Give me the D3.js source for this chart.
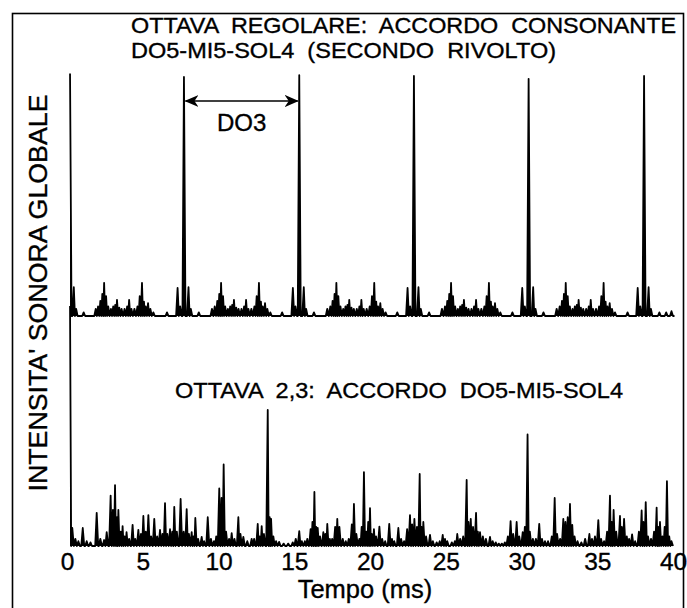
<!DOCTYPE html>
<html>
<head>
<meta charset="utf-8">
<script src="https://cdn.jsdelivr.net/npm/d3@7"></script>
<style>
  html, body { margin: 0; padding: 0; background: #fff; }
  svg { display: block; }
  text { font-family: "Liberation Sans", Arial, Helvetica, sans-serif; fill: #000; stroke: #000; stroke-width: 0.35px; }
</style>
</head>
<body>
<script>
// ---------------- DATA ----------------
const xTicks = [0, 5, 10, 15, 20, 25, 30, 35, 40];
const xTickLabels = ["0", "5", "10", "15", "20", "25", "30", "35", "40"];

const titleTop1 = "OTTAVA  REGOLARE:  ACCORDO  CONSONANTE";
const titleTop2 = "DO5-MI5-SOL4  (SECONDO  RIVOLTO)";
const titleBottom = "OTTAVA  2,3:  ACCORDO  DO5-MI5-SOL4";
const yLabel = "INTENSITA' SONORA GLOBALE";
const xLabel = "Tempo (ms)";
const intervalLabel = "DO3";

// main periodic peaks of the upper trace (ms)
const topSpikeTimes = [0.2, 7.72, 15.33, 22.9, 30.47, 38.09];

// upper trace: peak times (ms) and heights (relative intensity)
const topTimes = [
  0.2, 0.45, 0.6, 1.1, 1.9, 2.05, 2.2, 2.33, 2.45, 2.58, 2.72, 2.9, 3.05, 3.18, 3.3, 3.45, 3.6, 3.8, 3.97, 4.1, 4.25, 4.45, 4.65, 4.8, 4.95, 5.08, 5.2, 5.35, 5.5, 5.7, 6.6, 7.3, 7.47,
  7.72, 8.02, 8.17, 8.7, 9.57, 9.75, 9.92, 10.05, 10.17, 10.3, 10.44, 10.62, 10.77, 10.9, 11.02, 11.17, 11.32, 11.52, 11.69, 11.82, 11.97, 12.17, 12.37, 12.52, 12.67, 12.8, 12.92, 13.07, 13.22, 13.42, 14.2, 14.91, 15.08,
  15.33, 15.63, 15.78, 16.3, 17.18, 17.38, 17.53, 17.66, 17.78, 17.91, 18.05, 18.23, 18.38, 18.51, 18.63, 18.78, 18.93, 19.13, 19.3, 19.43, 19.58, 19.78, 19.98, 20.13, 20.28, 20.41, 20.53, 20.68, 20.83, 21.03, 21.8, 22.48, 22.65,
  22.9, 23.2, 23.35, 23.9, 24.75, 24.95, 25.1, 25.23, 25.35, 25.48, 25.62, 25.8, 25.95, 26.08, 26.2, 26.35, 26.5, 26.7, 26.87, 27.0, 27.15, 27.35, 27.55, 27.7, 27.85, 27.98, 28.1, 28.25, 28.4, 28.6, 29.4, 30.05, 30.22,
  30.47, 30.77, 30.92, 31.45, 32.32, 32.52, 32.67, 32.8, 32.92, 33.05, 33.19, 33.37, 33.52, 33.65, 33.77, 33.92, 34.07, 34.27, 34.44, 34.57, 34.72, 34.92, 35.12, 35.27, 35.42, 35.55, 35.67, 35.82, 35.97, 36.17, 37.0, 37.67, 37.84,
  38.09, 38.39, 38.54, 39.1, 39.55, 39.9
];
const topValues = [
  101, 12, 3, 1.5, 3, 4, 6.3, 9.2, 13.8, 8.3, 4, 3, 4, 4.6, 6.7, 3.5, 3, 3, 4, 6.7, 3, 3, 4, 8.3, 13.8, 6, 4, 5.4, 3, 1.5, 1.5, 11.7, 4,
  99.6, 12, 3, 1.5, 3, 4, 6.3, 9.2, 13.8, 8.3, 4, 3, 4, 4.6, 6.7, 3.5, 3, 3, 4, 6.7, 3, 3, 4, 8.3, 13.8, 6, 4, 5.4, 3, 1.5, 1.5, 11.7, 4,
  100.4, 12, 3, 1.5, 3, 4, 6.3, 9.2, 13.8, 8.3, 4, 3, 4, 4.6, 6.7, 3.5, 3, 3, 4, 6.7, 3, 3, 4, 8.3, 13.8, 6, 4, 5.4, 3, 1.5, 1.5, 11.7, 4,
  100, 12, 3, 1.5, 3, 4, 6.3, 9.2, 13.8, 8.3, 4, 3, 4, 4.6, 6.7, 3.5, 3, 3, 4, 6.7, 3, 3, 4, 8.3, 13.8, 6, 4, 5.4, 3, 1.5, 1.5, 11.7, 4,
  98.8, 12, 3, 1.5, 3, 4, 6.3, 9.2, 13.8, 8.3, 4, 3, 4, 4.6, 6.7, 3.5, 3, 3, 4, 6.7, 3, 3, 4, 8.3, 13.8, 6, 4, 5.4, 3, 1.5, 1.5, 11.7, 4,
  100, 12, 3, 1.5, 1.5, 2
];

// lower trace: peak times (ms) and heights (relative intensity)
const bottomTimes = [
  0.2, 0.35, 0.55, 0.75, 1.04, 1.3, 1.55, 1.96, 2.2, 2.45, 2.62, 2.88, 3.03, 3.17, 3.3, 3.39, 3.55, 3.67, 3.8, 3.93,
  4.1, 4.33, 4.5, 4.71, 4.88, 5.04, 5.2, 5.37, 5.55, 5.76, 5.95, 6.14, 6.3, 6.47, 6.62, 6.8, 6.95, 7.08, 7.25, 7.5,
  7.7, 7.9, 8.05, 8.23, 8.35, 8.47, 8.65, 8.89, 9.05, 9.29, 9.5, 9.7, 9.85, 10.05, 10.2, 10.34, 10.5, 10.7, 10.87, 11.05,
  11.31, 11.45, 11.64, 11.9, 12.19, 12.35, 12.59, 12.72, 12.85, 13.0, 13.25, 13.38, 13.47, 13.62, 13.8, 14.0, 14.3, 14.6, 14.9, 15.1,
  15.33, 15.5, 15.7, 15.86, 16.08, 16.2, 16.33, 16.45, 16.55, 16.7, 16.92, 17.05, 17.18, 17.35, 17.5, 17.7, 17.84, 17.98, 18.2, 18.4,
  18.6, 18.8, 18.94, 19.1, 19.3, 19.45, 19.6, 19.75, 19.88, 20.0, 20.12, 20.26, 20.4, 20.62, 20.8, 21.0, 21.27, 21.45, 21.6, 21.87,
  22.05, 22.25, 22.45, 22.64, 22.78, 22.93, 23.1, 23.28, 23.4, 23.52, 23.7, 23.96, 24.15, 24.4, 24.6, 24.8, 24.95, 25.1, 25.4, 25.6,
  25.76, 25.95, 26.15, 26.38, 26.5, 26.65, 26.8, 27.0, 27.12, 27.26, 27.45, 27.65, 27.92, 28.1, 28.3, 28.5, 28.7, 28.9, 29.1, 29.28,
  29.45, 29.68, 29.85, 30.08, 30.22, 30.4, 30.55, 30.75, 30.95, 31.17, 31.35, 31.55, 31.75, 32.0, 32.19, 32.35, 32.55, 32.76, 32.9, 33.05,
  33.2, 33.35, 33.5, 33.7, 33.95, 34.2, 34.48, 34.65, 34.85, 35.07, 35.25, 35.45, 35.65, 35.84, 35.96, 36.08, 36.25, 36.5, 36.62, 36.77,
  36.95, 37.1, 37.3, 37.5, 37.75, 37.93, 38.05, 38.2, 38.35, 38.55, 38.75, 38.92, 39.02, 39.14, 39.3, 39.45, 39.6, 39.75, 39.9
];
const bottomValues = [
  100, 7.5, 3, 2, 7.5, 2, 1.5, 13.8, 3, 2.5, 5.8, 21, 15, 25.4, 12, 15, 6, 8.3, 4, 5.8,
  3, 8.8, 3, 6.7, 5, 12.5, 6, 12.9, 4, 11.3, 4, 6.7, 5, 17.9, 5, 7, 6, 16.3, 6, 19.6,
  6, 15.4, 5, 5.8, 4, 11.7, 3, 3.8, 2, 12, 3, 2, 4, 24, 20, 34, 6, 3, 5.4, 3,
  12, 5, 3.8, 2, 3, 3, 9.2, 4, 8.3, 5, 56.7, 12, 11.3, 4, 2, 1.7, 1, 1, 1.5, 3,
  6.2, 2, 2, 3, 7, 10, 22.5, 8, 7.5, 4, 5.8, 5, 9.2, 3, 3, 8, 11.3, 8, 3, 2,
  3, 9, 17.5, 5, 3, 8, 30.8, 6, 10, 15.8, 5, 7, 4, 8.1, 3, 2, 9.2, 3, 2, 7.5,
  3, 2, 7, 12.9, 9, 11.3, 8, 30, 8, 10, 4, 4.6, 2, 1.5, 2, 4.6, 3, 2, 1.5, 2,
  5, 3, 4, 27.5, 10, 11.3, 8, 13.8, 6, 5.8, 4, 3, 3.8, 2, 1.5, 1, 1, 1.5, 4, 10.4,
  5, 10, 4, 5.8, 8, 46.5, 6, 3, 3, 9.2, 3, 2, 2, 4, 20, 5, 3, 11.3, 10, 12,
  17.5, 8.8, 4, 2, 1.5, 3, 5, 3, 4, 10.8, 3, 2, 6, 21, 10, 15, 6, 12.5, 8, 11.3,
  4, 3, 4.8, 2, 6, 14.8, 10, 18.3, 4, 3, 6, 16, 8, 10, 4, 8, 27, 4, 2
];

// ---------------- DRAWING ----------------
const W = 687, H = 608;
const svg = d3.select("body").append("svg").attr("width", W).attr("height", H);
svg.append("rect").attr("width", W).attr("height", H).attr("fill", "#fff");

// frame
svg.append("rect")
  .attr("x", 12.5).attr("y", 13.5).attr("width", 671).attr("height", 640)
  .attr("fill", "none").attr("stroke", "#000").attr("stroke-width", 1.6);

const x = d3.scaleLinear().domain([0, 40]).range([67, 673]);
const yTop = d3.scaleLinear().domain([0, 100]).range([316, 76]);
const yBot = d3.scaleLinear().domain([0, 100]).range([546, 306]);

function tracePoints(times, values, hw, tEnd) {
  const pts = [];
  for (let i = 0; i < times.length; i++) {
    const t = times[i], v = values[i];
    if (i > 0) {
      const p = times[i - 1];
      if (t - p > 2 * hw) { pts.push([p + hw, 0]); pts.push([t - hw, 0]); }
      else pts.push([(p + t) / 2, 0]);
    }
    pts.push([t, v]);
  }
  const last = times[times.length - 1];
  pts.push([last + hw, 0]);
  if (tEnd > last + hw) pts.push([tEnd, 0]);
  return pts;
}

function drawTrace(times, values, y, hw, tEnd, sw) {
  const pts = tracePoints(times, values, hw, tEnd);
  const area = d3.area().x(d => x(d[0])).y0(y(0)).y1(d => y(d[1]));
  const line = d3.line().x(d => x(d[0])).y(d => y(d[1]));
  svg.append("path").datum(pts).attr("d", area).attr("fill", "#000");
  svg.append("path").datum(pts).attr("d", line)
    .attr("fill", "none").attr("stroke", "#000").attr("stroke-width", sw)
    .attr("stroke-linejoin", "round");
}

drawTrace(bottomTimes, bottomValues, yBot, 0.1, 40, 1.8);
drawTrace(topTimes, topValues, yTop, 0.1, 40.1, 1.8);

// titles
svg.append("text").attr("x", 131).attr("y", 33.4)
  .attr("font-size", 22).style("white-space", "pre")
  .attr("textLength", 545).attr("lengthAdjust", "spacingAndGlyphs")
  .text(titleTop1);
svg.append("text").attr("x", 131).attr("y", 58)
  .attr("font-size", 22).style("white-space", "pre")
  .attr("textLength", 425).attr("lengthAdjust", "spacingAndGlyphs")
  .text(titleTop2);
svg.append("text").attr("x", 175).attr("y", 398)
  .attr("font-size", 22.5).style("white-space", "pre")
  .attr("textLength", 448).attr("lengthAdjust", "spacingAndGlyphs")
  .text(titleBottom);

// interval arrow DO3
const defs = svg.append("defs");
defs.append("marker").attr("id", "ah").attr("viewBox", "0 -6 14 12")
  .attr("refX", 13).attr("refY", 0).attr("markerWidth", 14).attr("markerHeight", 12)
  .attr("markerUnits", "userSpaceOnUse").attr("orient", "auto-start-reverse")
  .append("path").attr("d", "M0,-6 L14,0 L0,6 L4,0 Z").attr("fill", "#000");
svg.append("line")
  .attr("x1", x(topSpikeTimes[1]) + 1.5).attr("x2", x(topSpikeTimes[2]) - 1.5)
  .attr("y1", 101).attr("y2", 101)
  .attr("stroke", "#000").attr("stroke-width", 1.4)
  .attr("marker-start", "url(#ah)").attr("marker-end", "url(#ah)");
svg.append("text")
  .attr("x", (x(topSpikeTimes[1]) + x(topSpikeTimes[2])) / 2).attr("y", 131)
  .attr("text-anchor", "middle").attr("font-size", 24).text(intervalLabel);

// x axis (labels only)
const ax = svg.append("g").attr("transform", "translate(0,546)")
  .call(d3.axisBottom(x).tickValues(xTicks).tickFormat((d, i) => xTickLabels[i]).tickSize(0).tickPadding(7));
ax.select(".domain").remove();
ax.selectAll("text").attr("font-size", 24.5).attr("font-family", "'Liberation Sans', Arial, sans-serif")
  .attr("fill", "#000").attr("stroke", "#000").attr("stroke-width", 0.35);

svg.append("text").attr("x", 365).attr("y", 598)
  .attr("text-anchor", "middle").attr("font-size", 25.5).text(xLabel);

// y label
svg.append("text")
  .attr("transform", "translate(47,293) rotate(-90)")
  .attr("text-anchor", "middle").attr("font-size", 26)
  .attr("textLength", 397).attr("lengthAdjust", "spacingAndGlyphs")
  .text(yLabel);
</script>
</body>
</html>
